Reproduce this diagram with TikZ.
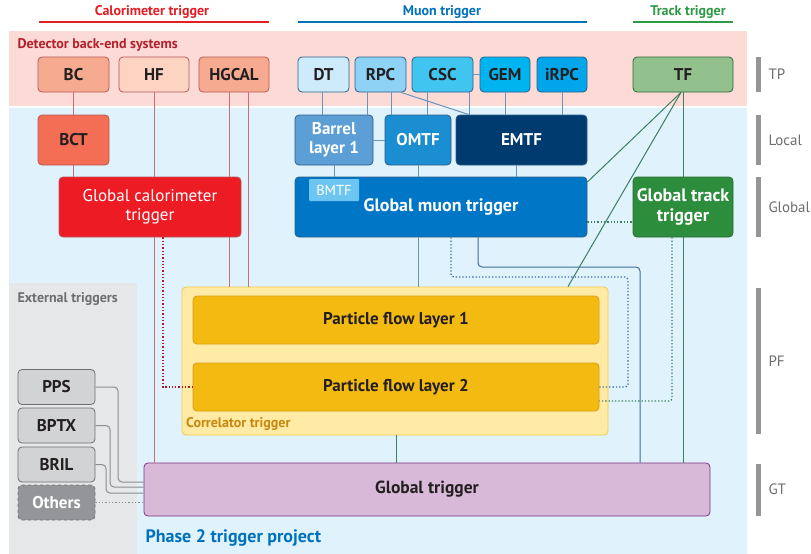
\documentclass[tikz,border=0pt]{standalone}
\usepackage{fontspec}
\setmainfont{PT Sans}
\usetikzlibrary{calc}
\definecolor{calored}{HTML}{E31E24}
\definecolor{muonblue}{HTML}{0072BC}
\definecolor{trackgreen}{HTML}{2E9A47}
\definecolor{tpbg}{HTML}{FCDAD6}
\definecolor{projbg}{HTML}{E0F2FC}
\definecolor{extbg}{HTML}{E6E7E8}
\definecolor{inktext}{HTML}{231F20}
\definecolor{bcfill}{HTML}{F6AB91}
\definecolor{hffill}{HTML}{FDD3C2}
\definecolor{bctfill}{HTML}{F36E54}
\definecolor{gctfill}{HTML}{ED1C24}
\definecolor{caloborder}{HTML}{B5575A}
\definecolor{dtfill}{HTML}{CDEBFB}
\definecolor{rpcfill}{HTML}{8ED3F5}
\definecolor{cscfill}{HTML}{3FC5F0}
\definecolor{gemfill}{HTML}{00B5EF}
\definecolor{irpcfill}{HTML}{00A6E9}
\definecolor{muonborder}{HTML}{2B5F8A}
\definecolor{barrelfill}{HTML}{5C9FD6}
\definecolor{omtffill}{HTML}{1B8DD1}
\definecolor{emtffill}{HTML}{003B6F}
\definecolor{gmtfill}{HTML}{0076C6}
\definecolor{bmtffill}{HTML}{6DC5F1}
\definecolor{tffill}{HTML}{92C18E}
\definecolor{gttfill}{HTML}{2C8D3C}
\definecolor{trackborder}{HTML}{2D6B35}
\definecolor{corrfill}{HTML}{FFEBA5}
\definecolor{corrborder}{HTML}{F9C846}
\definecolor{corrtext}{HTML}{C8870F}
\definecolor{pffill}{HTML}{F3BA12}
\definecolor{pfborder}{HTML}{DB9C12}
\definecolor{gtfill}{HTML}{D8B9D8}
\definecolor{gtborder}{HTML}{7F3384}
\definecolor{extfill}{HTML}{D1D3D4}
\definecolor{extborder}{HTML}{6D6E71}
\definecolor{othersfill}{HTML}{939598}
\definecolor{tierbar}{HTML}{939598}
\definecolor{tiertext}{HTML}{6D6E71}
\definecolor{detectortext}{HTML}{B3202E}
\definecolor{caloline}{HTML}{C4707C}
\definecolor{muonline}{HTML}{6B94B8}
\definecolor{muondark}{HTML}{3F6F97}
\definecolor{trackline}{HTML}{3C8060}
\definecolor{extline}{HTML}{8C8E90}
\tikzset{
    sys/.style={
        rectangle,
        rounded corners=4pt,
        draw,
        line width=0.8pt,
        inner sep=0pt,
        align=center,
        text=inktext,
        font=\bfseries\fontsize{17}{19}\selectfont,
    },
    tp/.style={
        sys,
        minimum height=35pt,
    },
    local/.style={
        sys,
        minimum height=50pt,
    },
    global/.style={
        sys,
        minimum height=60pt,
        text=white,
        font=\bfseries\fontsize{18}{20}\selectfont,
    },
    pf/.style={
        sys,
        fill=pffill,
        draw=pfborder,
        minimum width=406pt,
        minimum height=48pt,
    },
    ext/.style={
        sys,
        fill=extfill,
        draw=extborder,
        minimum width=77pt,
        minimum height=35pt,
    },
    tier/.style={
        anchor=west,
        text=tiertext,
        font=\fontsize{15}{17}\selectfont,
    },
    heading/.style={
        font=\bfseries\fontsize{14}{16}\selectfont,
    },
    link/.style={
        draw,
        line width=1pt,
    },
    calolink/.style={link, caloline},
    muonlink/.style={link, muonline},
    tracklink/.style={link, trackline},
    extlink/.style={link, extline, rounded corners=4pt},
    dots/.style={
        line width=1.3pt,
        dash pattern=on 1.3pt off 2pt,
    },
}
\begin{document}
\begin{tikzpicture}[x=1pt,y=-1pt]
    \useasboundingbox[fill=white] (0,0) rectangle (811,554);
    % backgrounds
    \fill[tpbg] (9,31) rectangle (747,105.5);
    \fill[projbg] (9,107.5) rectangle (747,554);
    \fill[extbg] (9,283) rectangle (137,554);

    % headings
    \node[heading, text=calored] (calohead) at (152,12) {Calorimeter trigger};
    \node[heading, text=muonblue] (muonhead) at (442,12) {Muon trigger};
    \node[heading, text=trackgreen] (trackhead) at (688,12) {Track trigger};
    \draw[line width=2pt, calored] (39,22) -- (269,22);
    \draw[line width=2pt, muonblue] (298,22) -- (587,22);
    \draw[line width=2pt, trackgreen] (633,22) -- (733,22);
    \node[heading, anchor=west, text=detectortext] (backend) at (14,45) {Detector back-end systems};
    \node[heading, anchor=west, text=tiertext] (exthead) at (14,299) {External triggers};
    \node[anchor=west, text=muonblue, font=\bfseries\fontsize{18}{20}\selectfont] (project) at (142,538) {Phase 2 trigger project};

    % tiers
    \fill[tierbar] (756,57) rectangle (761,92);
    \fill[tierbar] (756,115) rectangle (761,165);
    \fill[tierbar] (756,177) rectangle (761,237);
    \fill[tierbar] (756,288) rectangle (761,434);
    \fill[tierbar] (756,464) rectangle (761,516);
    \node[tier] (TP) at (765,74.5) {TP};
    \node[tier] (Local) at (765,140) {Local};
    \node[tier] (Global) at (765,207) {Global};
    \node[tier] (PF) at (765,361) {PF};
    \node[tier] (GTtier) at (765,489.5) {GT};

    % trigger primitives
    \node[tp, fill=bcfill, draw=caloborder, minimum width=71pt] (BC) at (73.5,74.5) {BC};
    \node[tp, fill=hffill, draw=caloborder, minimum width=70pt] (HF) at (154,74.5) {HF};
    \node[tp, fill=bcfill, draw=caloborder, minimum width=70pt] (HGCAL) at (234,74.5) {HGCAL};
    \node[tp, fill=dtfill, draw=muonborder, minimum width=51pt] (DT) at (323.5,74.5) {DT};
    \node[tp, fill=rpcfill, draw=muonborder, minimum width=51pt] (RPC) at (380.5,74.5) {RPC};
    \node[tp, fill=cscfill, draw=muonborder, minimum width=61pt] (CSC) at (442.5,74.5) {CSC};
    \node[tp, fill=gemfill, draw=muonborder, minimum width=50pt] (GEM) at (505,74.5) {GEM};
    \node[tp, fill=irpcfill, draw=muonborder, minimum width=50pt] (iRPC) at (562,74.5) {iRPC};
    \node[tp, fill=tffill, draw=trackborder, minimum width=100pt] (TF) at (683,74.5) {TF};

    % local
    \node[local, fill=bctfill, draw=caloborder, minimum width=71pt] (BCT) at (73.5,140) {BCT};
    \node[local, fill=barrelfill, draw=muonborder, text=white, minimum width=78pt] (Barrel) at (334,140) {Barrel\\layer 1};
    \node[local, fill=omtffill, draw=muonborder, text=white, minimum width=66pt] (OMTF) at (418,140) {OMTF};
    \node[local, fill=emtffill, draw=muonborder, text=white, minimum width=131pt] (EMTF) at (521.5,140) {EMTF};

    % global
    \node[global, fill=gctfill, draw=caloborder, minimum width=182pt, font=\fontsize{17}{19}\selectfont] (GCT) at (150,207) {Global calorimeter\\trigger};
    \node[global, fill=gmtfill, draw=muonborder, minimum width=292pt] (GMT) at (441,207) {Global muon trigger};
    \node[rectangle, rounded corners=1pt, fill=bmtffill, text=white, minimum width=50pt, minimum height=22pt, inner sep=0pt, font=\fontsize{14.5}{16}\selectfont] (BMTF) at (334,190) {BMTF};
    \node[global, fill=gttfill, draw=trackborder, minimum width=100pt] (GTT) at (683,207) {Global track\\trigger};

    % correlator
    \node[sys, fill=corrfill, draw=corrborder, minimum width=426pt, minimum height=148pt] (Corr) at (395,361) {};
    \node[anchor=south west, inner sep=0pt, text=corrtext, font=\bfseries\fontsize{14}{16}\selectfont] (corrlabel) at (186,431) {Correlator trigger};
    \node[pf] (PF1) at (396,320) {Particle flow layer 1};
    \node[pf] (PF2) at (396,387) {Particle flow layer 2};

    % global trigger
    \node[sys, fill=gtfill, draw=gtborder, minimum width=566pt, minimum height=53pt, font=\bfseries\fontsize{17.5}{19}\selectfont] (GT) at (427,489.5) {Global trigger};

    % external
    \node[ext] (PPS) at (56.5,387) {PPS};
    \node[ext] (BPTX) at (56.5,425.5) {BPTX};
    \node[ext] (BRIL) at (56.5,464.5) {BRIL};
    \node[ext, fill=othersfill, dashed, text=white] (Others) at (56.5,502.5) {Others};

    % calorimeter links
    \draw[calolink] (BC) -- (BCT);
    \draw[calolink] (BCT) -- (BCT |- GCT.north);
    \draw[calolink] (HF) -- (HF |- GCT.north);
    \draw[calolink] (229,0 |- HGCAL.south) -- (229,0 |- GCT.north);
    \draw[calolink] (248,0 |- HGCAL.south) -- (248,0 |- Corr.north);
    \draw[calolink] (229,0 |- GCT.south) -- (229,0 |- Corr.north);
    \draw[calolink] (154,0 |- GCT.south) -- (154,0 |- GT.north);
    \draw[calolink, dots, draw=calored!80!black] (163,0 |- GCT.south) |- (PF2.west);

    % muon links
    \draw[muonlink] (322,0 |- DT.south) -- (322,0 |- Barrel.north);
    \draw[muonlink] (367,0 |- RPC.south) -- (367,0 |- Barrel.north);
    \draw[muonlink] (391,0 |- RPC.south) -- (391,0 |- OMTF.north);
    \draw[muonlink] (401,0 |- RPC.south) -- (469,0 |- EMTF.north);
    \draw[muonlink] (427,0 |- CSC.south) -- (427,0 |- OMTF.north);
    \draw[muonlink] (469,0 |- CSC.south) -- (469,0 |- EMTF.north);
    \draw[muonlink] (GEM) -- (GEM |- EMTF.north);
    \draw[muonlink] (iRPC) -- (iRPC |- EMTF.north);
    \draw[muonlink] (CSC) -- (GEM);
    \draw[muonlink] (Barrel) -- (OMTF);
    \draw[muonlink] (Barrel) -- (Barrel |- GMT.north);
    \draw[muonlink] (OMTF) -- (OMTF |- GMT.north);
    \draw[muonlink] (516,0 |- EMTF.south) -- (516,0 |- GMT.north);
    \draw[muonlink] (OMTF |- GMT.south) -- (OMTF |- Corr.north);
    \draw[muonlink, dots, draw=muondark, rounded corners=3pt] (451,0 |- GMT.south) -- (451,277) -- (628,277) |- (PF2.east);
    \draw[muonlink, draw=muondark, rounded corners=4pt] (478,0 |- GMT.south) -- (478,267) -| (640,0 |- GT.north);

    % track links
    \draw[tracklink] (TF) -- (GTT);
    \draw[tracklink] (GTT) -- (GTT |- GT.north);
    \draw[tracklink] ([xshift=-2pt]TF.south) -- (GMT.east |- 0,182);
    \draw[tracklink] ([xshift=-2pt]TF.south) -- (568,0 |- Corr.north);
    \draw[tracklink, dots, rounded corners=3pt] (672,0 |- GTT.south) -- (672,401) -- (PF2.east |- 0,401);
    \draw[tracklink, dots] (GMT.east |- 0,222) -- (GTT.west |- 0,222);
    \draw[tracklink] (396,0 |- Corr.south) -- (396,0 |- GT.north);

    % external links
    \draw[extlink] (PPS.east) -- (118,0 |- PPS.east) -- (118,482) -- (GT.west |- 0,482);
    \draw[extlink] (BPTX.east) -- (110,0 |- BPTX.east) -- (110,487) -- (GT.west |- 0,487);
    \draw[extlink] (BRIL.east) -- (106,0 |- BRIL.east) -- (106,493) -- (GT.west |- 0,493);
    \draw[extlink, dots] (Others.east) -- (GT.west |- Others.east);
\end{tikzpicture}
\end{document}
